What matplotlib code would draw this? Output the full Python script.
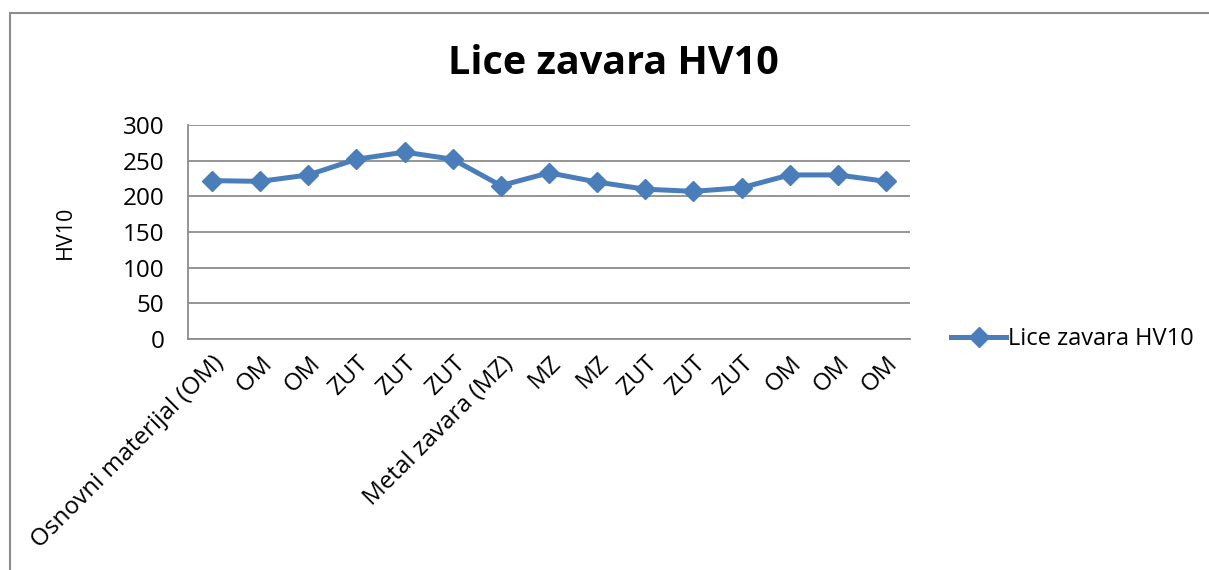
import matplotlib.pyplot as plt
from matplotlib.patches import Rectangle

# mjesta mjerenja i tvrdoca HV10
mjesta = ['Osnovni materijal (OM)', 'OM', 'OM', 'ZUT', 'ZUT', 'ZUT',
          'Metal zavara (MZ)', 'MZ', 'MZ', 'ZUT', 'ZUT', 'ZUT', 'OM', 'OM', 'OM']
hv10 = [222, 221, 230, 252, 262, 252, 215, 233, 220, 210, 207, 212, 230, 230, 221]
y_ticks = [0, 50, 100, 150, 200, 250, 300]

plt.rcParams['font.family'] = ['Open Sans', 'DejaVu Sans']

fig = plt.figure(figsize=(12.09, 5.70), dpi=100)
ax = fig.add_axes([0.1555, 0.4053, 0.5972, 0.3754])

# okvir oko cijelog grafikona
fig.patches.append(Rectangle((10 / 1209, -0.1), 1.2, 1.1 - 13 / 570,
                             transform=fig.transFigure, fill=False,
                             edgecolor='#8c8c8c', linewidth=1.5))

x = range(len(hv10))
ax.plot(x, hv10, color='#4a7ebb', linewidth=3.6, marker='D', markersize=10,
        label='Lice zavara HV10')

ax.set_xlim(-0.5, len(hv10) - 0.5)
ax.set_ylim(0, 300)
ax.set_yticks(y_ticks)
ax.set_xticks(list(x))
ax.set_xticklabels(mjesta, rotation=45, ha='right', rotation_mode='anchor',
                   fontsize=17.5)
ax.tick_params(axis='y', labelsize=17.5, length=0, pad=17)
ax.tick_params(axis='x', length=0, pad=9)

ax.grid(axis='y', color='#8c8c8c', linewidth=1.3)
ax.set_axisbelow(True)
for s in ['top', 'right']:
    ax.spines[s].set_visible(False)
for s in ['left', 'bottom']:
    ax.spines[s].set_color('#8c8c8c')
    ax.spines[s].set_linewidth(1.3)

ax.set_ylabel('HV10', fontsize=15.5, labelpad=34)
fig.text(0.507, 0.888, 'Lice zavara HV10', ha='center', va='center',
         fontsize=28.5, fontweight='bold')

ax.legend(loc='center left', bbox_to_anchor=(1.028, 0.0), frameon=False,
          fontsize=17, handlelength=2.3, handletextpad=0.1)

fig.savefig('out.png', dpi=100)
